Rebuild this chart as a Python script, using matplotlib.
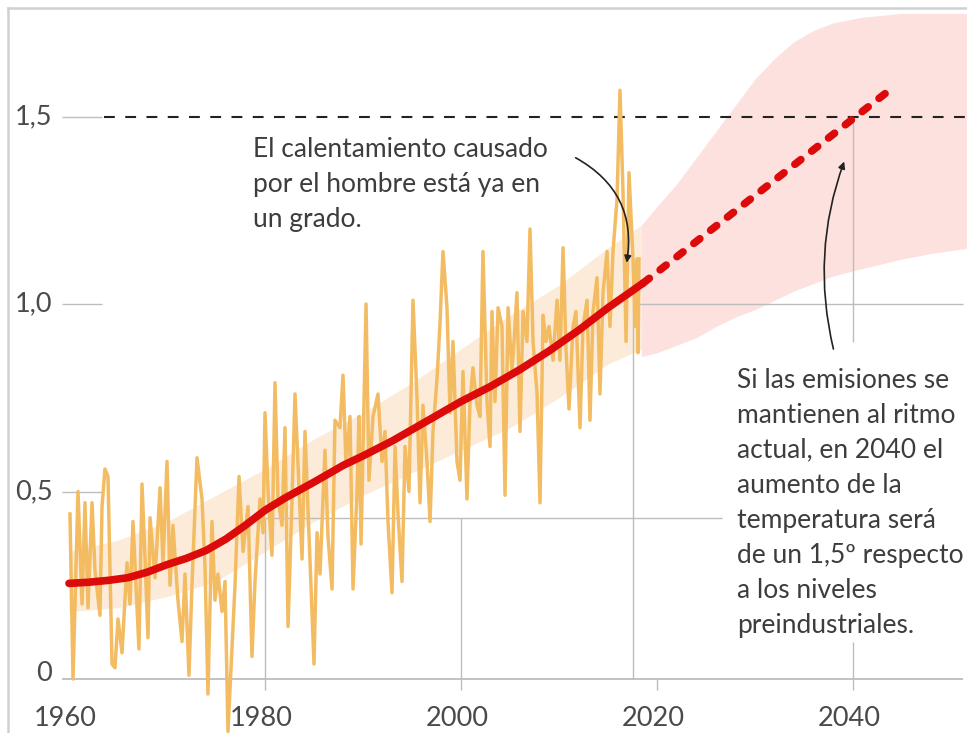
import matplotlib
matplotlib.use("Agg")
import matplotlib.pyplot as plt
from matplotlib.lines import Line2D

plt.rcParams['font.family'] = ['Lato', 'DejaVu Sans']

# ---------------- data ----------------
obs_years = [1960.10, 1960.41, 1960.92, 1961.33, 1961.63, 1961.94, 1962.35, 1962.65, 1963.16, 1963.37,
             1963.67, 1963.98, 1964.39, 1964.69, 1965.00, 1965.41, 1965.92, 1966.22, 1966.53, 1967.14,
             1967.45, 1967.76, 1968.06, 1968.27, 1968.78, 1969.29, 1969.59, 1970.00, 1970.31, 1970.61,
             1971.12, 1971.53, 1971.84, 1972.24, 1972.55, 1973.06, 1973.57, 1973.88, 1974.18, 1974.59,
             1974.90, 1975.20, 1975.61, 1975.92, 1976.22, 1976.63, 1976.94, 1977.35, 1977.76, 1978.27,
             1978.67, 1978.98, 1979.49, 1979.80, 1980.00, 1980.31, 1980.71, 1981.02, 1981.33, 1981.73,
             1982.04, 1982.35, 1982.76, 1983.06, 1983.37, 1983.78, 1984.08, 1984.39, 1985.00, 1985.31,
             1985.61, 1986.12, 1986.43, 1986.84, 1987.14, 1987.65, 1987.96, 1988.27, 1988.67, 1988.98,
             1989.39, 1989.59, 1989.80, 1990.31, 1990.61, 1991.02, 1991.53, 1991.94, 1992.24, 1992.55,
             1992.96, 1993.27, 1993.57, 1993.98, 1994.29, 1994.69, 1995.10, 1995.51, 1995.82, 1996.12,
             1996.53, 1996.84, 1997.14, 1997.55, 1997.86, 1998.16, 1998.57, 1998.88, 1999.18, 1999.59,
             1999.90, 2000.20, 2000.61, 2000.92, 2001.22, 2001.63, 2001.94, 2002.24, 2002.65, 2002.96,
             2003.16, 2003.47, 2003.78, 2004.18, 2004.49, 2004.80, 2005.20, 2005.41, 2005.71, 2006.02,
             2006.33, 2006.73, 2007.04, 2007.35, 2007.76, 2008.06, 2008.37, 2008.67, 2008.98, 2009.39,
             2009.80, 2010.10, 2010.41, 2010.71, 2011.02, 2011.43, 2011.73, 2012.14, 2012.45, 2012.86,
             2013.16, 2013.47, 2013.88, 2014.18, 2014.49, 2014.90, 2015.20, 2015.51, 2015.92, 2016.22,
             2016.53, 2016.84, 2017.14, 2017.55, 2017.76, 2017.96, 2018.06, 2018.16]
obs_values = [0.44, 0.00, 0.50, 0.20, 0.47, 0.19, 0.47, 0.29, 0.17, 0.46,
              0.56, 0.54, 0.04, 0.03, 0.16, 0.07, 0.31, 0.20, 0.42, 0.08,
              0.52, 0.32, 0.11, 0.43, 0.27, 0.51, 0.31, 0.58, 0.25, 0.41,
              0.21, 0.10, 0.28, 0.01, 0.25, 0.59, 0.48, 0.30, -0.04, 0.42,
              0.21, 0.28, 0.18, 0.26, -0.14, 0.08, 0.25, 0.54, 0.34, 0.46,
              0.06, 0.26, 0.48, 0.39, 0.71, 0.50, 0.33, 0.79, 0.48, 0.41,
              0.67, 0.14, 0.48, 0.76, 0.57, 0.32, 0.66, 0.45, 0.04, 0.39,
              0.28, 0.61, 0.38, 0.24, 0.69, 0.67, 0.81, 0.57, 0.70, 0.24,
              0.50, 0.70, 0.36, 1.00, 0.53, 0.70, 0.76, 0.58, 0.66, 0.42,
              0.23, 0.62, 0.44, 0.26, 0.62, 0.50, 1.01, 0.75, 0.47, 0.73,
              0.58, 0.42, 0.66, 0.80, 0.95, 1.14, 0.99, 0.71, 0.90, 0.58,
              0.53, 0.82, 0.48, 0.74, 0.83, 0.73, 0.70, 1.14, 0.74, 0.62,
              0.98, 0.74, 0.99, 0.94, 0.49, 0.99, 0.82, 0.90, 1.03, 0.66,
              0.98, 0.90, 1.20, 0.90, 0.76, 0.47, 0.97, 0.90, 0.94, 0.85,
              1.01, 0.85, 1.15, 0.88, 0.72, 0.94, 0.98, 0.67, 0.94, 1.01,
              0.69, 0.98, 1.07, 0.76, 1.03, 1.14, 0.94, 1.14, 1.28, 1.57,
              1.30, 0.90, 1.35, 1.12, 0.94, 1.12, 0.87, 1.12]

trend_years = [1960, 1962, 1964, 1966, 1968, 1970, 1972, 1974, 1976, 1978, 1980, 1982, 1985,
               1988, 1990, 1993, 1996, 2000, 2003, 2006, 2009, 2012, 2015, 2018.6]
trend_values = [0.255, 0.258, 0.263, 0.27, 0.285, 0.305, 0.322, 0.343, 0.373, 0.41, 0.45, 0.482,
                0.525, 0.57, 0.595, 0.635, 0.68, 0.74, 0.78, 0.825, 0.875, 0.93, 0.99, 1.056]

proj_years = [2018.6, 2044.2]
proj_values = [1.056, 1.58]

hist_band_years = [1960, 1965, 1970, 1975, 1980, 1985, 1990, 1995, 2000, 2005, 2010, 2015, 2018.4]
hist_band_upper = [0.34, 0.37, 0.42, 0.49, 0.56, 0.64, 0.71, 0.79, 0.88, 0.97, 1.05, 1.15, 1.21]
hist_band_lower = [0.18, 0.19, 0.22, 0.26, 0.34, 0.42, 0.49, 0.55, 0.61, 0.67, 0.75, 0.84, 0.88]

proj_band_years = [2018.4, 2020, 2022, 2024, 2026, 2028, 2030, 2032, 2034, 2036, 2038, 2041, 2045, 2048, 2052]
proj_band_upper = [1.21, 1.26, 1.32, 1.39, 1.46, 1.53, 1.60, 1.655, 1.70, 1.73, 1.75, 1.765, 1.775, 1.775, 1.775]
proj_band_lower = [0.86, 0.87, 0.89, 0.91, 0.94, 0.965, 0.985, 1.01, 1.035, 1.055, 1.075, 1.095, 1.12, 1.135, 1.15]

x_ticks = [1960, 1980, 2000, 2020, 2040]
x_tick_labels = ["1960", "1980", "2000", "2020", "2040"]
y_ticks = [0, 0.5, 1.0, 1.5]
y_tick_labels = ["0", "0,5", "1,0", "1,5"]

threshold = 1.5
note_top = "El calentamiento causado\npor el hombre está ya en\nun grado."
note_right = ("Si las emisiones se\nmantienen al ritmo\nactual, en 2040 el\naumento de la\n"
              "temperatura será\nde un 1,5º respecto\na los niveles\npreindustriales.")

# ---------------- styling ----------------
ORANGE = "#F4BC62"
RED = "#DC0A0A"
PEACH = "#FCEBD8"
PINK = "#FCE1DF"
GRID = "#BDBDBD"
TEXT = "#3d3d3d"

fig = plt.figure(figsize=(9.67, 7.33), dpi=100)
ax = fig.add_axes([0, 0, 1, 1])
ax.set_xlim(1952.96, 2051.63)
ax.set_ylim(-0.144, 1.8107)
ax.axis("off")

# bands
ax.fill_between(proj_band_years, proj_band_lower, proj_band_upper, color=PINK, lw=0, zorder=1)
ax.fill_between(hist_band_years, hist_band_lower, hist_band_upper, color=PEACH, lw=0, zorder=1.5)

# grid pieces
glw = 1.0
ax.hlines(y_ticks[1:], 1959.3, 1963.4, color=GRID, lw=glw, zorder=2)
ax.hlines(0, 1959.3, 2051.2, color=GRID, lw=1.3, zorder=2)
ax.hlines(0.43, 1980, 2026.6, color=GRID, lw=glw, zorder=2)
ax.vlines([1980, 2000], -0.03, 0.43, color=GRID, lw=glw, zorder=2)
ax.vlines(2017.55, 0, 1.0, color=GRID, lw=glw, zorder=2)
ax.hlines(1.0, 2017.55, 2051.2, color=GRID, lw=glw, zorder=2)
ax.vlines(2040, 0.9, 1.5, color=GRID, lw=glw, zorder=2)
ax.vlines(2040, -0.03, 0.1, color=GRID, lw=glw, zorder=2)
ax.vlines(2020, -0.03, 0, color=GRID, lw=glw, zorder=2)

# threshold dashed line
ax.plot([1963.6, 2051.63], [threshold, threshold], color="#222222", lw=1.5,
        dashes=(5.2, 5.0), zorder=2.5)

# observed series
ax.plot(obs_years, obs_values, color=ORANGE, lw=2.5, zorder=3, clip_on=False)

# trend + projection
ax.plot(trend_years, trend_values, color=RED, lw=5.5, zorder=4, solid_capstyle="round")
ax.plot(proj_years, proj_values, color=RED, lw=5.5, zorder=4,
        dashes=(1.0, 1.8), dash_capstyle="round")

# tick labels
for x, lab in zip(x_ticks, x_tick_labels):
    ax.text(x - 0.4, -0.104, lab, ha="center", va="center", fontsize=19.5, color="#4a4a4a")
for y, lab in zip(y_ticks, y_tick_labels):
    ax.text(1958.3, y + (0.015 if y == 0 else 0), lab, ha="right", va="center",
            fontsize=19.5, color="#4a4a4a")

# annotations
ax.text(1978.8, 1.445, note_top, ha="left", va="top", fontsize=19, color=TEXT,
        linespacing=1.5)
ax.text(2028.15, 0.83, note_right, ha="left", va="top", fontsize=19, color=TEXT,
        linespacing=1.5)

ax.annotate("", xy=(2016.9, 1.11), xytext=(2011.7, 1.39),
            arrowprops=dict(arrowstyle="-|>", color="#222222", lw=1.2,
                            connectionstyle="arc3,rad=-0.35", mutation_scale=10,
                            shrinkA=0, shrinkB=0), zorder=5)
ax.annotate("", xy=(2039.1, 1.38), xytext=(2038.0, 0.88),
            arrowprops=dict(arrowstyle="-|>", color="#222222", lw=1.2,
                            connectionstyle="arc3,rad=-0.15", mutation_scale=10,
                            shrinkA=0, shrinkB=0), zorder=5)

# figure border (left and top)
fig.add_artist(Line2D([8/967, 8/967], [0, 1 - 8/733], transform=fig.transFigure,
                      color="#d0d0d0", lw=1.8))
fig.add_artist(Line2D([8/967, 1], [1 - 8/733, 1 - 8/733], transform=fig.transFigure,
                      color="#d0d0d0", lw=1.8))

fig.savefig("out.png", dpi=100, facecolor="white")
